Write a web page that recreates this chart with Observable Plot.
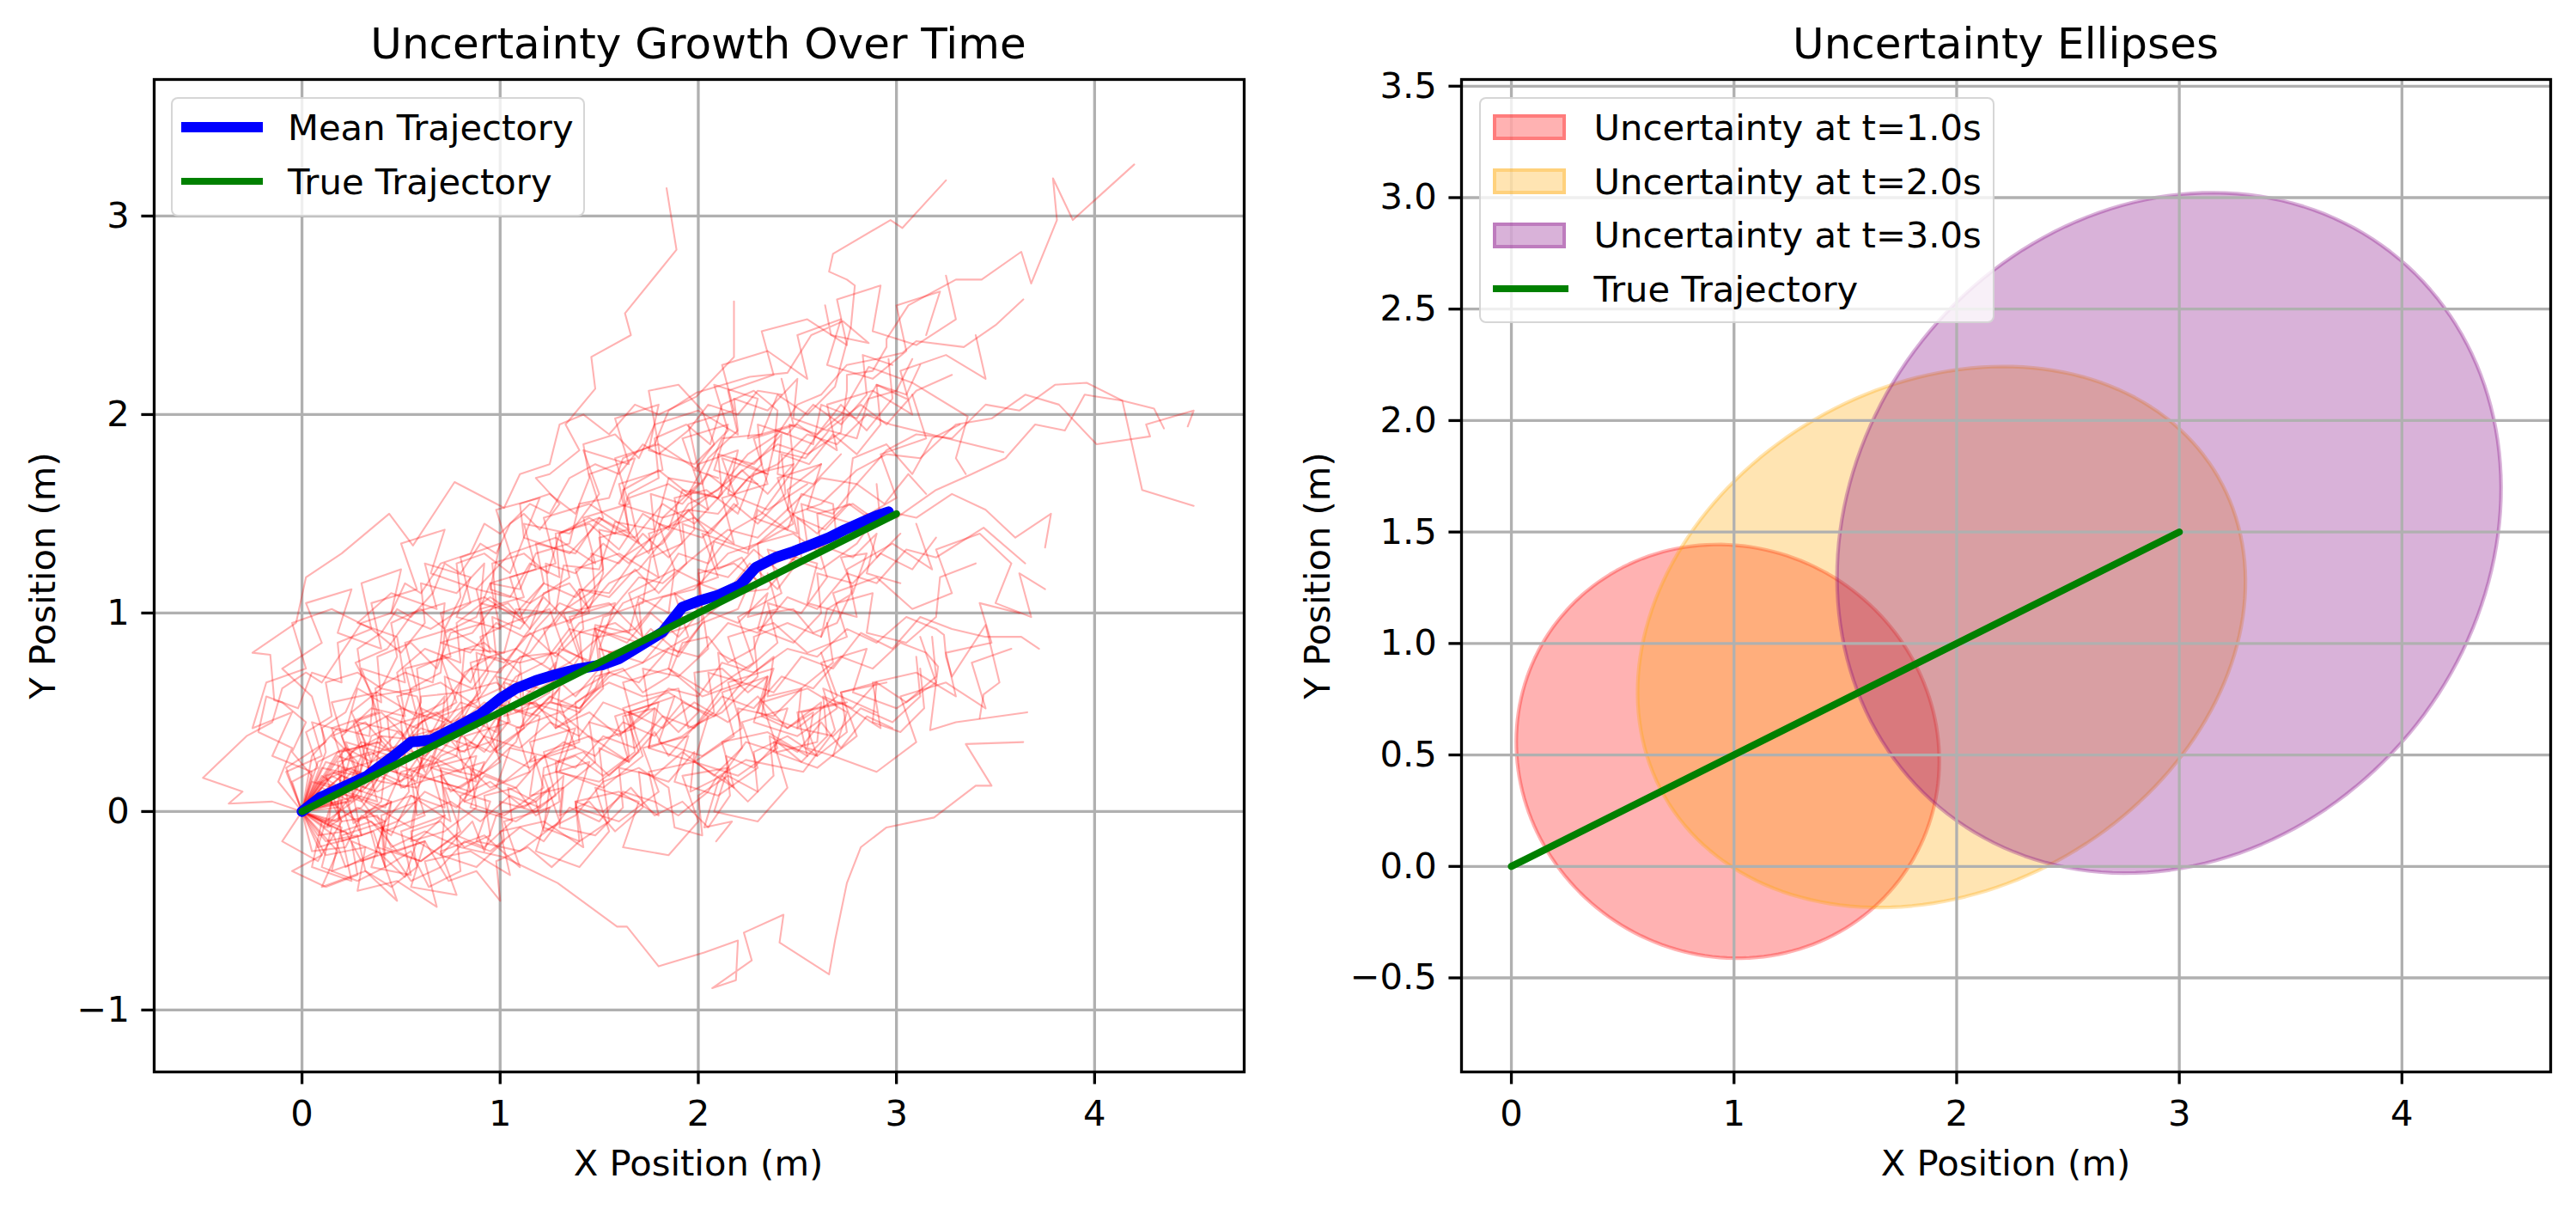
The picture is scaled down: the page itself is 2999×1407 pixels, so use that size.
<!DOCTYPE html>
<html><head><meta charset="utf-8">
<script src="https://cdn.jsdelivr.net/npm/d3@7"></script>
<script src="https://cdn.jsdelivr.net/npm/@observablehq/plot@0.6"></script>
<style>
body{margin:0;background:#fff;}
#fig{position:relative;width:2999px;height:1407px;font-family:"DejaVu Sans",sans-serif;color:#000;overflow:hidden;background:#fff;}
.abs{position:absolute;white-space:nowrap;line-height:1;}
.title{font-size:50px;transform:translateX(-50%);}
.lab{font-size:41.7px;}
.xl{transform:translateX(-50%);}
.yl{transform:translate(-50%,-50%) rotate(-90deg);}
.leg{position:absolute;box-sizing:border-box;background:rgba(255,255,255,0.8);border:2.5px solid rgba(204,204,204,0.8);border-radius:8px;}
.sw{position:absolute;box-sizing:border-box;}
.plotbox{position:absolute;top:0;}
</style></head><body>
<div id="fig">
  <div id="leftPlot" class="plotbox" style="left:0;width:1500px;height:1407px"></div>
  <div id="rightPlot" class="plotbox" style="left:1500px;width:1499px;height:1407px"></div>

  <div class="abs title" style="left:813px;top:25.7px">Uncertainty Growth Over Time</div>
  <div class="abs title" style="left:2335px;top:25.7px">Uncertainty Ellipses</div>
  <div class="abs lab xl" style="left:813px;top:1332.7px">X Position (m)</div>
  <div class="abs lab xl" style="left:2335px;top:1332.7px">X Position (m)</div>
  <div class="abs lab yl" style="left:49.6px;top:669.5px">Y Position (m)</div>
  <div class="abs lab yl" style="left:1533.6px;top:669.5px">Y Position (m)</div>

  <div class="leg" style="left:199px;top:113px;width:482px;height:139px"></div>
  <div class="sw" style="left:211px;top:141.75px;width:95px;height:12.5px;background:blue"></div>
  <div class="sw" style="left:211px;top:206.85px;width:95px;height:8.3px;background:green"></div>
  <div class="abs lab" style="left:335px;top:127.7px">Mean Trajectory</div>
  <div class="abs lab" style="left:335px;top:190.7px">True Trajectory</div>

  <div class="leg" style="left:1722px;top:113px;width:600px;height:263px"></div>
  <div class="sw" style="left:1738px;top:133.2px;width:85px;height:30px;background:rgba(255,0,0,0.3);border:4px solid rgba(255,0,0,0.3)"></div>
  <div class="sw" style="left:1738px;top:195.9px;width:85px;height:30px;background:rgba(255,165,0,0.3);border:4px solid rgba(255,165,0,0.3)"></div>
  <div class="sw" style="left:1738px;top:258.7px;width:85px;height:30px;background:rgba(128,0,128,0.3);border:4px solid rgba(128,0,128,0.3)"></div>
  <div class="sw" style="left:1738px;top:332.2px;width:88px;height:8.3px;background:green"></div>
  <div class="abs lab" style="left:1855.6px;top:128px">Uncertainty at t=1.0s</div>
  <div class="abs lab" style="left:1855.6px;top:190.7px">Uncertainty at t=2.0s</div>
  <div class="abs lab" style="left:1855.6px;top:253.2px">Uncertainty at t=3.0s</div>
  <div class="abs lab" style="left:1855.6px;top:315.7px">True Trajectory</div>
</div>
<script>
// ---------------- data ----------------
const leftXDomain = [-0.746, 4.755];
const leftYDomain = [-1.312, 3.688];
const leftXTicks = [0, 1, 2, 3, 4];
const leftYTicks = [-1, 0, 1, 2, 3];

const rightXDomain = [-0.224, 4.668];
const rightYDomain = [-0.922, 3.530];
const rightXTicks = [0, 1, 2, 3, 4];
const rightYTicks = [-0.5, 0, 0.5, 1, 1.5, 2, 2.5, 3, 3.5];

const trueX = [0, 3];
const trueY = [0, 1.5];

const meanX = [0,0.09,0.20,0.33,0.45,0.55,0.65,0.77,0.90,1.00,1.08,1.18,1.28,1.40,1.52,1.60,1.70,1.82,1.92,2.00,2.10,2.21,2.29,2.39,2.48,2.57,2.66,2.74,2.83,2.90,2.96];
const meanY = [0,0.07,0.12,0.18,0.27,0.35,0.36,0.42,0.49,0.57,0.62,0.66,0.69,0.72,0.74,0.77,0.83,0.905,1.03,1.06,1.09,1.14,1.23,1.28,1.31,1.345,1.38,1.42,1.46,1.49,1.51];

const ellipseLabel = ["Uncertainty at t=1.0s","Uncertainty at t=2.0s","Uncertainty at t=3.0s"];
const ellipseColor = ["red","orange","purple"];
const ellipseCx = [0.972, 1.932, 2.954];
const ellipseCy = [0.516, 1.029, 1.496];
const ellipseWidth = [1.926, 2.870, 3.212];
const ellipseHeight = [1.829, 2.260, 2.810];
const ellipseAngle = [-31.5, 30.0, 50.0];

const trajectories = [
[[0,0],[0.05,0.12],[0.12,0.30],[0.10,0.42],[0.22,0.50],[0.30,0.68],[0.28,0.82],[0.40,0.90],[0.48,1.02],[0.55,0.98],[0.66,1.10],[0.72,1.25],[0.80,1.20],[0.90,1.35],[0.98,1.30],[1.05,1.45],[1.12,1.50],[1.20,1.42],[1.30,1.55],[1.18,1.68],[1.25,1.70],[1.40,1.82],[1.33,1.95],[1.48,2.13],[1.46,2.29],[1.66,2.40],[1.63,2.51],[1.89,2.83],[1.84,3.14]],
[[0,0],[0.18,0.02],[0.20,0.22],[0.36,0.15],[0.40,0.38],[0.58,0.36],[0.60,0.58],[0.80,0.60],[0.82,0.82],[1.02,0.80],[1.08,1.02],[1.28,1.00],[1.32,1.24],[1.50,1.22],[1.58,1.46],[1.78,1.42],[1.85,1.68],[2.02,1.65],[2.12,1.88],[2.32,1.90],[2.40,2.10],[2.55,2.00],[2.69,2.14],[2.77,2.44],[2.79,2.65],[2.75,2.68],[2.66,2.72],[2.68,2.81],[2.97,2.98],[3.03,2.94],[3.25,3.18]],
[[0,0],[0.18,0.10],[0.30,0.05],[0.42,0.22],[0.60,0.30],[0.70,0.48],[0.88,0.55],[1.00,0.72],[1.15,0.80],[1.30,1.00],[1.45,1.10],[1.62,1.28],[1.80,1.40],[2.00,1.55],[2.20,1.70],[2.40,1.85],[2.55,1.80],[2.72,1.91],[2.75,2.12],[2.75,2.20],[2.88,2.22],[2.95,2.34],[2.95,2.38],[3.06,2.55],[3.30,2.68],[3.43,2.68],[3.63,2.82],[3.68,2.66],[3.81,2.98],[3.79,3.19],[3.89,2.98],[4.20,3.26]],
[[0,0],[0.08,0.15],[0.20,0.12],[0.25,0.30],[0.40,0.38],[0.48,0.30],[0.60,0.45],[0.75,0.52],[0.82,0.70],[0.95,0.78],[1.10,0.75],[1.18,0.92],[1.30,1.05],[1.42,1.00],[1.55,1.15],[1.70,1.22],[1.85,1.40],[1.95,1.55],[2.10,1.62],[2.25,1.80],[2.40,1.90],[2.50,2.05],[2.62,2.10],[2.75,2.25],[2.90,2.28],[3.03,2.31],[3.10,2.37],[3.34,2.34],[3.50,2.45],[3.64,2.58]],
[[0,0],[0.15,-0.05],[0.30,0.02],[0.40,0.15],[0.58,0.12],[0.70,0.28],[0.85,0.35],[0.95,0.30],[1.12,0.42],[1.25,0.55],[1.40,0.52],[1.55,0.68],[1.72,0.75],[1.85,0.90],[2.00,0.95],[2.18,1.10],[2.35,1.12],[2.50,1.30],[2.68,1.35],[2.85,1.50],[3.00,1.48],[3.20,1.62],[3.38,1.70],[3.55,1.78],[3.70,1.95],[3.85,1.92],[3.95,2.10],[4.14,2.07],[4.24,1.62],[4.50,1.54]],
[[0,0],[0.12,0.10],[0.25,0.08],[0.35,0.25],[0.50,0.32],[0.62,0.28],[0.80,0.45],[0.92,0.55],[1.05,0.50],[1.22,0.68],[1.35,0.75],[1.50,0.88],[1.68,0.92],[1.82,1.08],[1.98,1.12],[2.15,1.30],[2.30,1.35],[2.48,1.50],[2.62,1.55],[2.80,1.72],[2.95,1.80],[3.12,1.78],[3.30,1.95],[3.48,1.98],[3.65,2.10],[3.82,2.05],[4.01,1.85],[4.28,1.89],[4.26,1.95],[4.50,2.02],[4.47,1.94]],
[[0,0],[0.10,0.15],[0.25,0.22],[0.32,0.15],[0.48,0.30],[0.60,0.42],[0.72,0.38],[0.85,0.55],[1.00,0.62],[1.10,0.78],[1.28,0.80],[1.40,0.95],[1.55,1.00],[1.70,1.18],[1.82,1.15],[2.00,1.30],[2.15,1.42],[2.30,1.38],[2.48,1.55],[2.62,1.68],[2.80,1.65],[2.95,1.82],[3.10,1.90],[3.28,1.88],[3.45,2.05],[3.62,2.02],[3.80,2.15],[3.96,2.16],[4.14,2.07],[4.30,2.03],[4.35,1.93]],
[[0,0],[0.12,0.10],[0.20,-0.05],[0.38,-0.02],[0.45,-0.18],[0.62,-0.10],[0.80,-0.18],[1.02,-0.23],[1.29,-0.36],[1.59,-0.58],[1.64,-0.58],[1.80,-0.78],[2.03,-0.71],[2.20,-0.65],[2.19,-0.85],[2.07,-0.89],[2.27,-0.75],[2.23,-0.61],[2.43,-0.52],[2.41,-0.66],[2.66,-0.82],[2.69,-0.65],[2.75,-0.36],[2.82,-0.18],[2.95,-0.08],[3.19,-0.03],[3.40,0.13],[3.48,0.13],[3.35,0.34],[3.64,0.35]],
[[0,0],[0.08,-0.12],[0.22,-0.10],[0.30,-0.25],[0.45,-0.20],[0.55,-0.35],[0.70,-0.28],[0.82,-0.15],[0.95,-0.20],[1.10,-0.08],[1.22,-0.15],[1.35,0.02],[1.50,-0.05],[1.62,0.10],[1.78,0.05],[1.90,-0.02],[2.05,0.10],[2.09,0.17],[2.24,0.26],[2.53,0.20],[2.69,0.41],[2.63,0.62],[2.90,0.50]],
[[0,0],[0.20,0.08],[0.35,0.20],[0.52,0.12],[0.65,0.28],[0.80,0.20],[0.92,0.38],[1.10,0.32],[1.25,0.45],[1.40,0.38],[1.52,0.55],[1.70,0.48],[1.85,0.62],[2.00,0.58],[2.12,0.75],[2.28,0.70],[2.45,0.82],[2.60,0.78],[2.75,0.92],[2.90,0.85],[3.05,0.98],[3.20,0.92],[3.24,0.89],[3.25,0.78],[3.28,0.68],[3.45,0.94],[3.52,0.65],[3.44,0.59],[3.42,0.47]],
[[0,0],[0.15,0.18],[0.30,0.10],[0.45,0.25],[0.62,0.18],[0.70,0.38],[0.88,0.32],[1.00,0.50],[0.98,0.30],[1.15,0.22],[1.32,0.35],[1.48,0.28],[1.62,0.45],[1.78,0.38],[1.92,0.55],[2.08,0.48],[2.22,0.65],[2.38,0.60],[2.52,0.78],[2.68,0.72],[2.82,0.90],[2.98,0.82],[3.12,0.98],[3.28,0.92],[3.45,0.88],[3.63,0.88],[3.72,0.82]],
[[0,0],[0.12,0.05],[0.25,0.20],[0.40,0.15],[0.52,0.32],[0.68,0.38],[0.80,0.55],[0.95,0.50],[1.08,0.68],[1.22,0.75],[1.35,0.92],[1.50,0.88],[1.62,1.05],[1.78,1.12],[1.90,1.30],[2.05,1.25],[2.18,1.42],[2.32,1.50],[2.45,1.68],[2.60,1.90],[2.72,2.00],[2.86,2.24],[3.08,2.16],[3.36,1.99],[3.30,1.78],[3.35,1.70]],
[[0,0],[0.18,0.22],[0.30,0.35],[0.45,0.30],[0.58,0.48],[0.72,0.55],[0.85,0.72],[1.00,0.70],[1.12,0.88],[1.28,0.95],[1.40,1.12],[1.55,1.10],[1.68,1.28],[1.82,1.35],[1.95,1.52],[2.10,1.50],[2.25,1.68],[2.40,1.75],[2.55,1.90],[2.70,1.85],[2.85,2.00],[2.97,1.95],[3.54,1.81]],
[[0,0],[0.22,0.05],[0.30,-0.12],[0.48,-0.05],[0.62,0.10],[0.78,0.02],[0.92,0.18],[1.08,0.12],[1.22,0.28],[1.38,0.22],[1.52,0.38],[1.68,0.32],[1.82,0.48],[1.98,0.42],[2.12,0.58],[2.28,0.52],[2.42,0.68],[2.58,0.62],[2.72,0.78],[2.88,0.72],[3.02,0.85],[3.15,0.80],[3.21,0.73],[3.17,0.41],[3.30,0.45],[3.66,0.50]],
[[0,0],[0.10,0.12],[0.25,0.05],[0.38,0.22],[0.55,0.18],[0.68,0.35],[0.82,0.30],[0.95,0.48],[1.10,0.42],[1.25,0.58],[1.40,0.52],[1.55,0.70],[1.70,0.65],[1.85,0.82],[2.00,0.78],[2.15,0.95],[2.30,0.90],[2.45,1.08],[2.60,1.02],[2.75,1.20],[2.90,1.15],[3.05,1.32],[3.20,1.28],[3.44,1.43],[3.65,1.25]],
[[0,0],[0.12,-0.08],[0.25,0.08],[0.42,0.02],[0.50,0.20],[0.68,0.25],[0.75,0.10],[0.92,0.20],[1.08,0.35],[1.15,0.55],[1.32,0.50],[1.48,0.62],[1.55,0.80],[1.72,0.85],[1.90,0.78],[2.02,0.95],[2.20,1.02],[2.28,1.20],[2.45,1.28],[2.62,1.22],[2.80,1.35],[2.92,1.52],[3.10,1.48],[3.28,1.60],[3.45,1.52],[3.60,1.38],[3.78,1.50],[3.75,1.33]],
[[0,0],[-0.15,0.05],[-0.37,0.04],[-0.30,0.10],[-0.50,0.17],[-0.28,0.38],[-0.15,0.45],[-0.10,0.62],[0.02,0.70],[0.10,0.65],[0.20,0.80],[0.30,0.95],[0.45,1.00],[0.52,1.15],[0.60,1.10],[0.70,1.25],[0.85,1.30],[0.92,1.45],[1.00,1.40],[1.15,1.55],[1.25,1.50],[1.35,1.68],[1.48,1.75],[1.60,1.70],[1.72,1.85],[1.80,1.80],[1.95,1.92],[2.05,2.05],[2.20,2.00],[2.30,2.12],[2.42,2.10]],
[[0,0],[0.05,0.18],[-0.05,0.30],[0.02,0.45],[-0.10,0.55],[-0.14,0.56],[-0.16,0.79],[-0.25,0.80],[-0.03,0.95],[0.02,1.18],[0.20,1.30],[0.44,1.50],[0.56,1.34],[0.77,1.66],[1.02,1.53],[1.10,1.70],[1.25,1.75],[1.30,1.95],[1.42,2.00],[1.55,1.90],[1.68,2.05],[1.80,2.00],[1.99,2.09],[2.18,2.29],[2.18,2.57]],
[[0,0],[0.15,0.20],[0.28,0.15],[0.35,0.38],[0.50,0.45],[0.55,0.62],[0.70,0.70],[0.72,0.90],[0.88,0.98],[0.95,1.15],[1.10,1.12],[1.18,1.30],[1.35,1.35],[1.40,1.55],[1.55,1.58],[1.62,1.78],[1.78,1.85],[1.85,2.02],[1.99,2.11],[2.26,2.19],[2.45,2.21],[2.57,2.40],[2.73,2.47],[2.86,2.36],[2.67,2.40],[2.64,2.55]],
[[0,0],[0.22,0.10],[0.26,-0.06],[0.40,0.05],[0.42,0.22],[0.58,0.15],[0.62,0.34],[0.78,0.28],[0.82,0.48],[0.98,0.40],[1.02,0.58],[1.08,0.50],[1.25,0.60],[1.30,0.82],[1.45,0.76],[1.48,0.94],[1.65,0.90],[1.70,1.08],[1.85,1.00],[1.88,1.22],[2.02,1.15],[2.08,1.36],[2.25,1.30],[2.30,1.52],[2.45,1.42],[2.52,1.60],[2.68,1.55],[2.70,1.36],[2.85,1.42],[2.90,1.28],[3.02,1.40]],
[[0,0],[-0.08,0.20],[0.10,0.28],[0.05,0.45],[0.22,0.40],[0.28,0.62],[0.40,0.55],[0.38,0.78],[0.55,0.85],[0.68,0.72],[0.75,0.90],[0.92,0.95],[0.88,1.12],[1.05,1.08],[1.15,1.25],[1.30,1.18],[1.28,1.40],[1.45,1.45],[1.60,1.32],[1.72,1.50],[1.85,1.42],[1.92,1.62],[2.10,1.58],[2.18,1.78],[2.35,1.70],[2.40,1.92],[2.58,1.85],[2.62,2.05],[2.80,1.98],[2.90,2.15],[3.05,2.08]],
[[0,0],[0.16,-0.12],[0.22,-0.28],[0.38,-0.20],[0.52,-0.33],[0.58,-0.15],[0.70,-0.22],[0.86,-0.05],[0.92,-0.20],[0.98,-0.02],[1.18,0.05],[1.22,-0.10],[1.38,-0.02],[1.52,0.15],[1.50,0.32],[1.65,0.25],[1.78,0.40],[1.85,0.28],[2.00,0.45],[2.12,0.62],[2.10,0.80],[2.25,0.72],[2.40,0.85],[2.35,1.05],[2.52,1.00],[2.65,1.18],[2.60,1.35],[2.78,1.28],[2.90,1.40],[2.85,1.20],[3.02,1.15]],
[[0,0],[0.10,0.22],[0.28,0.18],[0.20,0.38],[0.35,0.52],[0.52,0.48],[0.48,0.70],[0.62,0.82],[0.80,0.75],[0.78,0.95],[0.95,1.08],[1.10,0.98],[1.22,1.15],[1.18,1.35],[1.38,1.30],[1.50,1.48],[1.65,1.40],[1.62,1.62],[1.80,1.72],[1.95,1.60],[2.05,1.78],[2.20,1.92],[2.18,2.08],[2.35,2.02],[2.50,2.18],[2.48,1.98],[2.65,1.92],[2.82,2.05],[2.95,1.95],[3.10,2.12],[3.28,2.20]],
[[0,0],[0.18,0.05],[0.20,-0.15],[0.36,-0.10],[0.42,-0.28],[0.55,-0.20],[0.64,-0.38],[0.80,-0.30],[0.78,-0.12],[0.92,-0.18],[1.06,-0.05],[1.04,0.12],[1.18,0.05],[1.32,0.18],[1.30,-0.02],[1.45,0.05],[1.58,-0.10],[1.72,0.02],[1.70,0.20],[1.85,0.15],[1.98,0.30],[1.96,0.10],[2.12,0.18],[2.25,0.05],[2.38,0.18],[2.36,0.38],[2.50,0.30],[2.62,0.45],[2.72,0.32],[2.85,0.48],[2.98,0.42]],
[[0,0],[0.05,-0.20],[0.22,-0.18],[0.30,-0.02],[0.45,-0.12],[0.55,0.08],[0.72,0.02],[0.70,0.22],[0.88,0.18],[1.00,0.35],[0.98,0.55],[1.15,0.48],[1.30,0.62],[1.28,0.42],[1.45,0.50],[1.60,0.38],[1.75,0.52],[1.72,0.72],[1.90,0.68],[2.05,0.82],[2.02,1.02],[2.20,0.95],[2.35,1.10],[2.30,0.92],[2.48,0.85],[2.62,1.00],[2.60,1.20],[2.78,1.15],[2.92,1.30],[3.08,1.22],[3.20,1.38]],
[[0,0],[0.20,0.18],[0.32,0.12],[0.45,0.30],[0.43,0.48],[0.58,0.42],[0.72,0.58],[0.70,0.38],[0.86,0.45],[0.98,0.30],[1.12,0.42],[1.10,0.62],[1.25,0.70],[1.38,0.58],[1.50,0.72],[1.48,0.92],[1.64,0.85],[1.76,1.00],[1.90,0.88],[2.02,1.02],[2.00,1.22],[2.15,1.18],[2.28,1.32],[2.42,1.20],[2.55,1.35],[2.52,1.55],[2.68,1.50],[2.80,1.65],[2.94,1.55],[3.06,1.70],[3.15,1.60]],
[[0,0],[-0.12,0.15],[-0.05,0.32],[-0.22,0.40],[-0.18,0.58],[-0.02,0.52],[0.05,0.70],[0.20,0.65],[0.18,0.85],[0.35,0.92],[0.50,0.80],[0.62,0.95],[0.60,1.15],[0.78,1.10],[0.92,1.25],[0.90,1.05],[1.08,1.00],[1.22,1.15],[1.38,1.08],[1.52,1.22],[1.50,1.42],[1.68,1.38],[1.82,1.55],[1.98,1.45],[2.12,1.60],[2.10,1.80],[2.28,1.75],[2.42,1.90],[2.40,1.70],[2.58,1.65],[2.72,1.80]],
[[0,0],[0.10,-0.22],[-0.05,-0.30],[0.12,-0.38],[0.28,-0.32],[0.25,-0.15],[0.42,-0.22],[0.40,-0.02],[0.58,0.05],[0.55,-0.15],[0.72,-0.10],[0.88,0.02],[0.85,0.22],[1.02,0.15],[1.18,0.28],[1.15,0.08],[1.32,0.12],[1.48,0.25],[1.45,0.45],[1.62,0.40],[1.78,0.52],[1.75,0.32],[1.92,0.38],[2.08,0.50],[2.05,0.70],[2.22,0.65],[2.38,0.78],[2.35,0.58],[2.52,0.62],[2.68,0.75],[2.65,0.95]],
[[0,0],[0.24,0.05],[0.34,0.22],[0.50,0.15],[0.62,0.32],[0.60,0.52],[0.75,0.45],[0.90,0.60],[0.88,0.80],[1.02,0.75],[1.15,0.90],[1.28,0.78],[1.42,0.92],[1.40,1.12],[1.55,1.08],[1.68,1.22],[1.80,1.10],[1.94,1.25],[1.92,1.45],[2.06,1.40],[2.18,1.55],[2.30,1.45],[2.44,1.60],[2.42,1.80],[2.56,1.75],[2.68,1.90],[2.80,1.80],[2.92,1.95],[2.90,2.15],[3.05,2.10],[3.12,2.25]],
[[0,0],[0.15,-0.08],[0.10,-0.28],[0.28,-0.35],[0.42,-0.28],[0.40,-0.08],[0.58,-0.15],[0.72,-0.02],[0.70,-0.22],[0.88,-0.28],[1.02,-0.15],[1.00,0.05],[1.18,0.00],[1.32,0.12],[1.30,-0.08],[1.48,-0.12],[1.62,0.02],[1.60,0.22],[1.78,0.18],[1.92,0.30],[2.08,0.18],[2.22,0.32],[2.20,0.52],[2.38,0.48],[2.52,0.62],[2.50,0.42],[2.68,0.38],[2.82,0.52],[2.98,0.45],[3.12,0.58],[3.10,0.78]],
[[0,0],[0.08,0.25],[0.22,0.32],[0.35,0.25],[0.48,0.40],[0.60,0.32],[0.74,0.48],[0.72,0.68],[0.86,0.62],[0.98,0.78],[0.96,0.98],[1.10,0.92],[1.22,1.08],[1.35,0.95],[1.48,1.10],[1.46,1.30],[1.60,1.25],[1.72,1.40],[1.85,1.28],[1.98,1.42],[1.96,1.62],[2.10,1.58],[2.22,1.72],[2.35,1.60],[2.48,1.75],[2.46,1.95],[2.60,1.90],[2.72,2.05],[2.85,1.92],[2.98,2.08],[2.96,2.28]],
[[0,0],[0.16,0.12],[0.13,-0.08],[0.28,0.02],[0.42,-0.05],[0.54,0.10],[0.52,0.30],[0.66,0.25],[0.78,0.40],[0.92,0.30],[1.04,0.45],[1.02,0.65],[1.16,0.60],[1.28,0.75],[1.26,0.55],[1.40,0.50],[1.52,0.62],[1.50,0.82],[1.64,0.78],[1.76,0.92],[1.90,0.80],[2.02,0.95],[2.00,1.15],[2.14,1.10],[2.26,1.25],[2.40,1.12],[2.52,1.28],[2.50,1.48],[2.64,1.42],[2.76,1.55],[2.90,1.45]],
[[0,0],[0.05,0.15],[0.22,0.10],[0.20,0.30],[0.38,0.35],[0.52,0.25],[0.50,0.45],[0.68,0.50],[0.82,0.40],[0.80,0.60],[0.98,0.65],[1.12,0.55],[1.10,0.75],[1.28,0.80],[1.42,0.70],[1.40,0.90],[1.58,0.95],[1.72,0.85],[1.70,1.05],[1.88,1.10],[2.02,1.00],[2.00,1.20],[2.18,1.25],[2.32,1.15],[2.30,1.35],[2.48,1.40],[2.62,1.30],[2.60,1.50],[2.78,1.55],[2.92,1.45],[2.90,1.65]],
[[0,0],[0.28,0.12],[0.32,0.35],[0.25,0.50],[0.40,0.62],[0.58,0.58],[0.64,0.40],[0.82,0.48],[0.94,0.70],[0.90,0.88],[1.05,0.95],[1.25,1.02],[1.32,0.82],[1.45,0.75],[1.52,0.98],[1.72,1.05],[1.76,1.28],[1.92,1.35],[1.88,1.58],[2.04,1.62],[2.20,1.50],[2.28,1.70],[2.48,1.75],[2.45,1.52],[2.60,1.40],[2.75,1.55],[2.78,1.78],[2.95,1.85],[3.08,1.70],[3.18,1.88],[3.32,1.95]],
[[0,0],[0.12,-0.05],[0.30,0.08],[0.28,0.25],[0.15,0.38],[0.32,0.45],[0.45,0.30],[0.50,0.12],[0.70,0.18],[0.82,0.05],[0.98,0.12],[1.05,0.32],[1.22,0.28],[1.40,0.35],[1.38,0.55],[1.55,0.65],[1.72,0.58],[1.90,0.62],[1.95,0.42],[2.12,0.50],[2.30,0.68],[2.28,0.88],[2.45,0.95],[2.62,0.88],[2.70,1.05],[2.88,1.10],[2.85,0.90],[3.05,0.85],[3.20,0.98],[3.22,1.18],[3.40,1.25]],
[[0,0],[0.18,0.28],[0.34,0.22],[0.40,0.42],[0.37,0.62],[0.52,0.70],[0.66,0.65],[0.70,0.85],[0.86,0.90],[0.98,1.05],[0.96,1.25],[1.12,1.30],[1.24,1.20],[1.30,1.40],[1.45,1.48],[1.58,1.40],[1.65,1.60],[1.80,1.68],[1.78,1.88],[1.94,1.95],[2.06,1.85],[2.12,2.05],[2.28,2.12],[2.40,2.02],[2.38,1.82],[2.54,1.78],[2.66,1.92],[2.80,1.88],[2.86,2.08],[3.00,2.12],[3.08,2.28]],
[[0,0],[0.10,0.08],[0.28,-0.05],[0.45,0.05],[0.42,-0.18],[0.60,-0.25],[0.78,-0.12],[0.80,0.08],[0.95,0.15],[1.12,0.02],[1.25,0.12],[1.22,-0.08],[1.40,-0.15],[1.55,-0.05],[1.52,0.15],[1.70,0.22],[1.85,0.12],[1.88,-0.08],[2.02,-0.12],[2.00,0.08],[2.15,0.18],[2.30,0.10],[2.28,0.30],[2.45,0.38],[2.60,0.28],[2.75,0.40],[2.72,0.60],[2.90,0.65],[3.05,0.55],[3.20,0.68],[3.18,0.88]],
[[0,0],[0.18,-0.05],[0.22,0.15],[0.38,0.10],[0.55,0.18],[0.58,-0.02],[0.75,0.05],[0.90,-0.05],[1.05,0.08],[1.20,0.02],[1.22,0.22],[1.38,0.28],[1.52,0.18],[1.68,0.30],[1.65,0.50],[1.82,0.42],[1.98,0.55],[2.15,0.45],[2.30,0.58],[2.45,0.42],[2.62,0.55],[2.60,0.35],[2.40,0.30],[2.24,0.35],[2.10,0.15],[2.03,-0.08],[2.17,-0.05],[2.09,-0.15]],
[[0,0],[0.20,-0.10],[0.35,-0.05],[0.48,-0.20],[0.62,-0.15],[0.74,-0.35],[0.88,-0.30],[1.00,-0.45],[0.98,-0.25],[1.14,-0.18],[1.26,-0.28],[1.40,-0.15],[1.38,0.05],[1.52,0.00],[1.66,0.12],[1.78,-0.02],[1.92,0.05],[2.05,-0.08],[2.16,0.08],[2.14,0.28],[2.28,0.22],[2.40,0.35],[2.52,0.25],[2.65,0.38],[2.63,0.58],[2.78,0.52],[2.90,0.65],[2.88,0.45],[3.02,0.40],[3.14,0.52],[3.12,0.72]],
[[0,0],[0.05,0.28],[0.18,0.42],[0.34,0.38],[0.36,0.58],[0.27,0.75],[0.43,0.82],[0.56,1.00],[0.72,1.05],[0.70,0.85],[0.85,0.80],[0.98,0.95],[1.12,0.88],[1.25,1.05],[1.23,1.25],[1.38,1.20],[1.52,1.35],[1.65,1.25],[1.78,1.40],[1.76,1.60],[1.92,1.55],[2.05,1.70],[2.18,1.60],[2.32,1.75],[2.30,1.95],[2.45,1.90],[2.58,2.05],[2.72,1.95],[2.85,2.10],[2.83,2.30],[2.98,2.25]],
[[0,0],[0.10,0.18],[0.22,0.10],[0.30,0.28],[0.26,0.45],[0.40,0.50],[0.52,0.38],[0.60,0.55],[0.58,0.72],[0.72,0.78],[0.85,0.65],[0.92,0.82],[0.90,1.00],[1.04,1.05],[1.15,0.92],[1.22,1.10],[1.35,1.15],[1.45,1.02],[1.52,1.20],[1.50,1.38],[1.64,1.42],[1.75,1.30],[1.82,1.48],[1.95,1.52],[2.05,1.40],[2.10,1.22],[2.22,1.28],[2.30,1.15],[2.25,0.98],[2.40,1.02],[2.35,1.20]],
[[0,0],[0.12,-0.15],[0.28,-0.12],[0.32,-0.30],[0.45,-0.38],[0.58,-0.28],[0.55,-0.10],[0.70,-0.05],[0.82,-0.18],[0.95,-0.12],[0.92,0.08],[1.08,0.12],[1.18,-0.02],[1.30,0.05],[1.28,0.25],[1.42,0.30],[1.55,0.18],[1.65,0.28],[1.62,0.48],[1.78,0.52],[1.90,0.40],[2.00,0.50],[1.98,0.70],[2.12,0.72],[2.25,0.60],[2.35,0.68],[2.32,0.48],[2.45,0.42],[2.58,0.50],[2.55,0.32],[2.68,0.28]],
[[0,0],[-0.05,0.15],[0.08,0.22],[0.02,0.40],[0.15,0.48],[0.12,0.65],[0.28,0.70],[0.40,0.62],[0.48,0.78],[0.45,0.95],[0.60,1.02],[0.72,0.92],[0.80,1.08],[0.78,1.25],[0.92,1.30],[1.05,1.20],[1.12,1.38],[1.10,1.55],[1.25,1.60],[1.38,1.50],[1.45,1.68],[1.42,1.85],[1.58,1.90],[1.70,1.78],[1.78,1.95],[1.75,2.12],[1.90,2.15],[2.02,2.02],[2.08,1.85],[1.98,1.72],[2.10,1.68]],
[[0,0],[0.20,0.08],[0.18,0.25],[0.35,0.30],[0.48,0.20],[0.55,0.38],[0.70,0.42],[0.80,0.30],[0.95,0.35],[1.02,0.52],[1.18,0.55],[1.28,0.42],[1.40,0.50],[1.48,0.68],[1.62,0.72],[1.72,0.60],[1.85,0.68],[1.92,0.85],[2.05,0.88],[2.15,0.75],[2.28,0.82],[2.35,1.00],[2.48,1.02],[2.58,0.90],[2.70,0.95],[2.78,1.12],[2.72,1.28],[2.85,1.30],[2.78,1.10],[2.65,1.02],[2.62,0.88]],
[[0,0],[0.25,-0.12],[0.18,0.10],[0.40,0.20],[0.32,0.05],[0.55,-0.08],[0.60,0.18],[0.85,0.10],[0.78,0.35],[0.95,0.55],[1.20,0.48],[1.15,0.25],[1.38,0.32],[1.30,0.55],[1.55,0.70],[1.48,0.92],[1.70,0.85],[1.92,0.98],[1.85,0.72],[2.05,0.60],[2.28,0.75],[2.20,0.98],[2.42,1.10],[2.35,1.32],[2.60,1.25],[2.55,1.05],[2.80,0.98],[2.75,1.22],[2.98,1.35],[3.18,1.22],[3.10,1.45]],
[[0,0],[-0.10,-0.15],[0.08,-0.25],[0.20,-0.05],[0.12,0.18],[0.35,0.25],[0.28,0.45],[0.50,0.40],[0.62,0.20],[0.55,0.42],[0.78,0.55],[0.70,0.78],[0.92,0.85],[1.10,0.70],[1.02,0.48],[1.25,0.55],[1.40,0.78],[1.32,1.00],[1.55,1.05],[1.72,0.88],[1.65,1.10],[1.88,1.22],[1.80,1.45],[2.02,1.38],[2.20,1.55],[2.12,1.78],[2.35,1.70],[2.28,1.48],[2.50,1.40],[2.45,1.62],[2.62,1.75]],
[[0,0],[0.22,0.20],[0.15,0.42],[0.38,0.50],[0.30,0.72],[0.52,0.65],[0.48,0.88],[0.28,0.95],[0.45,1.10],[0.68,1.02],[0.62,1.25],[0.85,1.18],[0.78,0.98],[1.00,0.92],[0.95,1.15],[1.18,1.22],[1.12,1.45],[1.35,1.40],[1.50,1.60],[1.42,1.82],[1.65,1.75],[1.58,1.98],[1.80,2.05],[1.75,1.82],[1.98,1.75],[2.15,1.92],[2.08,2.15],[2.30,2.08],[2.25,1.88],[2.48,1.95],[2.42,2.18]],
[[0,0],[0.18,-0.20],[0.10,-0.38],[0.32,-0.30],[0.48,-0.45],[0.40,-0.22],[0.62,-0.15],[0.55,-0.38],[0.78,-0.42],[0.70,-0.20],[0.92,-0.12],[1.10,-0.28],[1.02,-0.05],[1.25,0.02],[1.18,-0.20],[1.40,-0.28],[1.55,-0.10],[1.48,0.12],[1.70,0.05],[1.62,-0.18],[1.85,-0.22],[2.00,-0.05],[1.92,0.18],[2.15,0.22],[2.08,0.00],[2.30,-0.05],[2.45,0.12],[2.38,0.35],[2.60,0.28],[2.52,0.50],[2.75,0.55]],
[[0,0],[0.12,0.25],[0.35,0.18],[0.28,0.40],[0.50,0.52],[0.72,0.45],[0.65,0.22],[0.88,0.15],[0.82,0.38],[1.05,0.45],[0.98,0.68],[1.20,0.62],[1.42,0.75],[1.35,0.98],[1.58,1.05],[1.50,0.82],[1.72,0.75],[1.95,0.88],[1.88,1.10],[2.10,1.18],[2.02,1.40],[2.25,1.32],[2.48,1.45],[2.40,1.68],[2.62,1.75],[2.55,1.52],[2.78,1.45],[3.00,1.58],[2.92,1.80],[3.15,1.88],[3.08,2.10]],
[[0,0],[0.15,0.05],[0.08,-0.18],[0.30,-0.12],[0.25,0.12],[0.45,0.05],[0.38,-0.18],[0.60,-0.25],[0.80,-0.10],[0.72,0.12],[0.95,0.05],[0.88,-0.15],[1.10,-0.20],[1.30,-0.05],[1.22,0.18],[1.45,0.25],[1.38,0.02],[1.60,-0.05],[1.80,0.10],[1.72,0.32],[1.95,0.38],[1.88,0.15],[2.10,0.08],[2.30,0.22],[2.22,0.45],[2.45,0.52],[2.38,0.30],[2.60,0.22],[2.80,0.38],[2.72,0.60],[2.95,0.65]],
[[0,0],[-0.08,0.22],[0.12,0.35],[0.05,0.58],[-0.10,0.72],[0.10,0.85],[0.02,1.05],[0.25,1.12],[0.18,0.90],[0.40,0.82],[0.35,1.05],[0.58,1.12],[0.50,1.35],[0.72,1.42],[0.65,1.20],[0.88,1.12],[1.05,1.30],[0.98,1.52],[1.20,1.58],[1.12,1.38],[1.35,1.30],[1.52,1.48],[1.45,1.70],[1.68,1.78],[1.60,1.55],[1.82,1.48],[2.00,1.65],[1.92,1.88],[2.15,1.95],[2.08,1.72],[2.30,1.65]],
[[0,0],[0.28,0.08],[0.42,-0.10],[0.62,-0.02],[0.55,0.20],[0.78,0.28],[0.95,0.12],[1.15,0.20],[1.08,0.42],[1.30,0.50],[1.48,0.35],[1.68,0.42],[1.62,0.65],[1.85,0.72],[2.02,0.58],[2.22,0.65],[2.15,0.88],[2.38,0.95],[2.55,0.80],[2.75,0.88],[2.68,1.10],[2.90,1.18],[3.08,1.02],[3.28,1.10],[3.20,1.32],[3.42,1.40],[3.58,1.25],[3.50,1.05],[3.68,0.98],[3.62,1.20],[3.75,1.12]],
[[0,0],[0.10,-0.05],[0.05,-0.28],[0.25,-0.35],[0.20,-0.12],[0.42,-0.05],[0.35,-0.28],[0.55,-0.32],[0.50,-0.10],[0.72,-0.02],[0.65,0.22],[0.88,0.28],[0.82,0.05],[1.02,-0.02],[1.22,0.12],[1.15,0.35],[1.38,0.42],[1.30,0.20],[1.52,0.12],[1.72,0.28],[1.65,0.50],[1.88,0.58],[1.80,0.35],[2.02,0.28],[2.22,0.42],[2.15,0.65],[2.38,0.72],[2.30,0.50],[2.50,0.42],[2.70,0.58],[2.62,0.80]],
[[0,0],[0.18,0.30],[0.40,0.35],[0.35,0.58],[0.58,0.62],[0.52,0.85],[0.75,0.92],[0.95,0.80],[0.90,1.02],[1.12,1.08],[1.05,1.30],[1.28,1.38],[1.48,1.25],[1.42,1.48],[1.65,1.55],[1.58,1.78],[1.80,1.85],[2.00,1.72],[1.95,1.95],[2.18,2.02],[2.12,2.25],[2.35,2.32],[2.55,2.18],[2.50,2.40],[2.72,2.48],[2.65,2.25],[2.88,2.18],[3.05,2.32],[3.00,2.55],[3.22,2.62],[3.15,2.40]],
[[0,0],[0.30,0.15],[0.22,0.35],[0.45,0.28],[0.65,0.40],[0.58,0.18],[0.80,0.12],[1.00,0.25],[0.92,0.48],[1.15,0.55],[1.35,0.42],[1.28,0.20],[1.50,0.15],[1.70,0.30],[1.62,0.52],[1.85,0.60],[2.05,0.48],[1.98,0.25],[2.20,0.18],[2.40,0.32],[2.32,0.55],[2.55,0.62],[2.75,0.50],[2.68,0.28],[2.90,0.20],[3.10,0.35],[3.02,0.58],[3.25,0.65],[3.45,0.52],[3.38,0.75],[3.58,0.82]],
[[0,0],[0.05,0.20],[-0.15,0.28],[-0.05,0.50],[-0.25,0.42],[-0.18,0.65],[0.02,0.72],[-0.05,0.95],[0.15,1.02],[0.35,0.92],[0.30,1.15],[0.50,1.22],[0.45,1.00],[0.65,0.92],[0.85,1.05],[0.80,1.28],[1.00,1.35],[0.95,1.12],[1.15,1.05],[1.35,1.18],[1.30,1.40],[1.50,1.48],[1.70,1.35],[1.65,1.58],[1.85,1.65],[2.05,1.52],[2.00,1.75],[2.20,1.82],[2.15,1.60],[2.35,1.52],[2.55,1.65]],
[[0,0],[0.20,-0.08],[0.15,-0.30],[0.38,-0.22],[0.32,0.00],[0.55,0.08],[0.75,-0.05],[0.70,0.18],[0.92,0.25],[0.85,0.02],[1.08,-0.05],[1.28,0.08],[1.22,0.30],[1.45,0.38],[1.65,0.25],[1.58,0.48],[1.80,0.55],[1.75,0.32],[1.98,0.25],[2.18,0.38],[2.12,0.60],[2.35,0.68],[2.28,0.45],[2.50,0.38],[2.70,0.52],[2.62,0.75],[2.85,0.82],[2.78,0.60],[3.00,0.52],[3.20,0.65],[3.12,0.88]],
[[0,0],[0.15,0.12],[0.38,0.05],[0.32,0.28],[0.55,0.35],[0.48,0.58],[0.70,0.65],[0.90,0.52],[0.85,0.75],[1.08,0.82],[1.28,0.70],[1.22,0.92],[1.45,1.00],[1.38,1.22],[1.60,1.30],[1.80,1.18],[1.75,1.40],[1.98,1.48],[2.18,1.35],[2.12,1.58],[2.35,1.65],[2.28,1.88],[2.50,1.95],[2.70,1.82],[2.65,2.05],[2.88,2.12],[3.08,2.00],[3.02,2.22],[3.25,2.30],[3.45,2.18],[3.40,2.40]],
[[0,0],[0.12,-0.22],[0.32,-0.18],[0.28,-0.40],[0.48,-0.35],[0.68,-0.48],[0.62,-0.25],[0.85,-0.20],[1.05,-0.32],[1.00,-0.10],[1.22,-0.05],[1.42,-0.18],[1.38,0.05],[1.60,0.10],[1.80,-0.02],[1.75,0.20],[1.98,0.25],[2.18,0.12],[2.12,0.35],[2.35,0.40],[2.55,0.28],[2.50,0.50],[2.72,0.55],[2.92,0.42],[2.88,0.65],[3.10,0.70],[3.30,0.58],[3.25,0.80],[3.48,0.85],[3.42,1.05],[3.62,1.00]],
[[0,0],[0.22,0.32],[0.15,0.55],[0.38,0.60],[0.58,0.48],[0.52,0.72],[0.75,0.78],[0.70,1.00],[0.92,1.08],[1.12,0.95],[1.05,1.18],[1.28,1.25],[1.22,1.48],[1.45,1.55],[1.65,1.42],[1.60,1.65],[1.82,1.72],[1.78,1.95],[2.00,2.02],[2.20,1.90],[2.15,2.12],[2.38,2.20],[2.32,2.42],[2.55,2.48],[2.75,2.35],[2.70,2.58],[2.92,2.65],[2.88,2.42],[3.10,2.35],[3.30,2.48],[3.25,2.70]]
];

// ---------------- build ----------------
const fmtInt = d3.format("d");
const fmt1 = d3.format(".1f");
const redRows = trajectories.flatMap((pts, i) => pts.map(([x, y]) => ({id: i, x, y})));
const meanRows = meanX.map((x, i) => ({x, y: meanY[i]}));
const trueRows = trueX.map((x, i) => ({x, y: trueY[i]}));

function ellipseOutline(i) {
  const a = ellipseWidth[i] / 2, b = ellipseHeight[i] / 2, th = ellipseAngle[i] * Math.PI / 180;
  return d3.range(0, 361, 2).map(deg => {
    const t = deg * Math.PI / 180, u = a * Math.cos(t), v = b * Math.sin(t);
    return {x: ellipseCx[i] + u * Math.cos(th) - v * Math.sin(th), y: ellipseCy[i] + u * Math.sin(th) + v * Math.cos(th)};
  });
}

const common = {
  height: 1407, marginTop: 92, marginBottom: 160,
  style: {fontFamily: '"DejaVu Sans", sans-serif', fontSize: "41.7px", background: "transparent", color: "#000", overflow: "visible"}
};
const gridOpt = {stroke: "#b0b0b0", strokeOpacity: 1, strokeWidth: 3.3};

const left = Plot.plot({
  ...common, width: 1500, marginLeft: 179, marginRight: 52,
  x: {type: "linear", domain: leftXDomain},
  y: {type: "linear", domain: leftYDomain},
  marks: [
    Plot.gridX(leftXTicks, gridOpt),
    Plot.gridY(leftYTicks, gridOpt),
    Plot.line(redRows, {x: "x", y: "y", z: "id", stroke: "red", strokeOpacity: 0.3, strokeWidth: 2.1}),
    Plot.line(meanRows, {x: "x", y: "y", stroke: "blue", strokeWidth: 12.5}),
    Plot.line(trueRows, {x: "x", y: "y", stroke: "green", strokeWidth: 8.3}),
    Plot.frame({stroke: "#000", strokeWidth: 3.3}),
    Plot.axisX(leftXTicks, {tickSize: 14.6, tickPadding: 18.4, strokeWidth: 3.3, label: null, tickFormat: fmtInt}),
    Plot.axisY(leftYTicks, {tickSize: 14.6, tickPadding: 14, strokeWidth: 3.3, label: null, tickFormat: fmtInt})
  ]
});
document.getElementById("leftPlot").append(left);

const right = Plot.plot({
  ...common, width: 1499, marginLeft: 201, marginRight: 30,
  x: {type: "linear", domain: rightXDomain},
  y: {type: "linear", domain: rightYDomain},
  marks: [
    ...ellipseLabel.map((lab, i) => Plot.line(ellipseOutline(i), {x: "x", y: "y", fill: ellipseColor[i], fillOpacity: 0.3, stroke: ellipseColor[i], strokeOpacity: 0.3, strokeWidth: 4.2, title: () => lab})),
    Plot.gridX(rightXTicks, gridOpt),
    Plot.gridY(rightYTicks, gridOpt),
    Plot.line(trueRows, {x: "x", y: "y", stroke: "green", strokeWidth: 8.3}),
    Plot.frame({stroke: "#000", strokeWidth: 3.3}),
    Plot.axisX(rightXTicks, {tickSize: 14.6, tickPadding: 18.4, strokeWidth: 3.3, label: null, tickFormat: fmtInt}),
    Plot.axisY(rightYTicks, {tickSize: 14.6, tickPadding: 14, strokeWidth: 3.3, label: null, tickFormat: fmt1})
  ]
});
document.getElementById("rightPlot").append(right);
</script>
</body></html>
